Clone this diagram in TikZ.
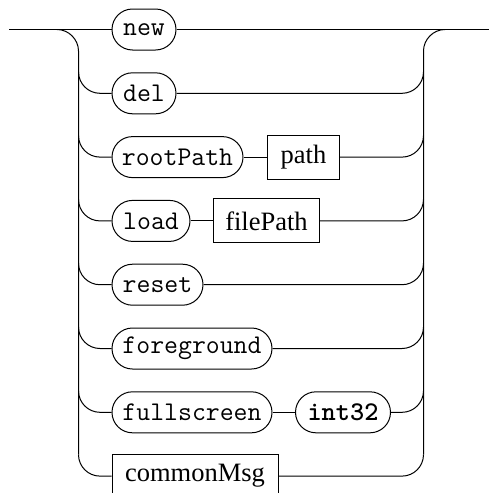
\documentclass[tikz,border=0pt]{standalone}
\usepackage{fontspec}
\setmainfont{Liberation Serif}
\newfontfamily\ttbold{lmmonolt10-bold}[Extension=.otf]
\begin{document}
\begin{tikzpicture}[x=1pt,y=-1pt,line width=1pt,
  term/.style={draw, rounded corners=20.5pt, minimum height=41pt, inner sep=0pt, anchor=west,
    font=\fontsize{27}{27}\selectfont\ttfamily},
  nonterm/.style={draw, minimum height=44pt, inner sep=0pt, anchor=west,
    font=\fontsize{26.5}{26.5}\selectfont}]
\useasboundingbox (0,0) rectangle (489,493);
% nodes
\node[term, minimum width=64pt]  (new)  at (111.5,29.5)  {new};
\node[term, minimum width=64pt]  (del)  at (111.5,93.3)  {del};
\node[term, minimum width=131pt] (root) at (111.5,157.1) {rootPath};
\node[nonterm, minimum width=72pt] (path) at (267,157.1) {path};
\node[term, minimum width=78pt]  (load) at (111.5,220.9) {load};
\node[nonterm, minimum width=106pt] (file) at (213,220.9) {filePath};
\node[term, minimum width=91pt]  (reset) at (111.5,284.7) {reset};
\node[term, minimum width=160pt] (fg)   at (111.5,348.5) {foreground};
\node[term, minimum width=160pt] (fs)   at (111.5,412.3) {fullscreen};
\node[term, minimum width=95pt, font=\fontsize{27}{27}\selectfont\ttbold] (int) at (295,412.3) {int32};
\node[nonterm, minimum width=166pt] (cm) at (111.5,476.1) {commonMsg};
% entry / exit
\coordinate (start) at (9,29.5);
\coordinate (end) at (489,29.5);
\draw (start) -- (new.west);
\draw (new.east) -- (end);
% left rail
\draw (57,29.5) .. controls (68.87,29.5) and (78.5,39.63) .. (78.5,51) -- (78.5,454.6);
% right rail
\draw (423.5,454.6) -- (423.5,51) .. controls (423.5,39.63) and (433.13,29.5) .. (445,29.5);
% branches
\foreach \n/\r in {del/93.3, root/157.1, load/220.9, reset/284.7, fg/348.5, fs/412.3, cm/476.1}{
  \draw (78.5,\r-21.5) .. controls (78.5,\r-9.63) and (88.13,\r) .. (100,\r) -- (\n.west);
}
\foreach \n/\r in {del/93.3, path/157.1, file/220.9, reset/284.7, fg/348.5, int/412.3, cm/476.1}{
  \draw (\n.east) -- (402,\r) .. controls (413.87,\r) and (423.5,\r-9.63) .. (423.5,\r-21.5);
}
% sequences
\draw (root.east) -- (path.west);
\draw (load.east) -- (file.west);
\draw (fs.east) -- (int.west);
\end{tikzpicture}
\end{document}
